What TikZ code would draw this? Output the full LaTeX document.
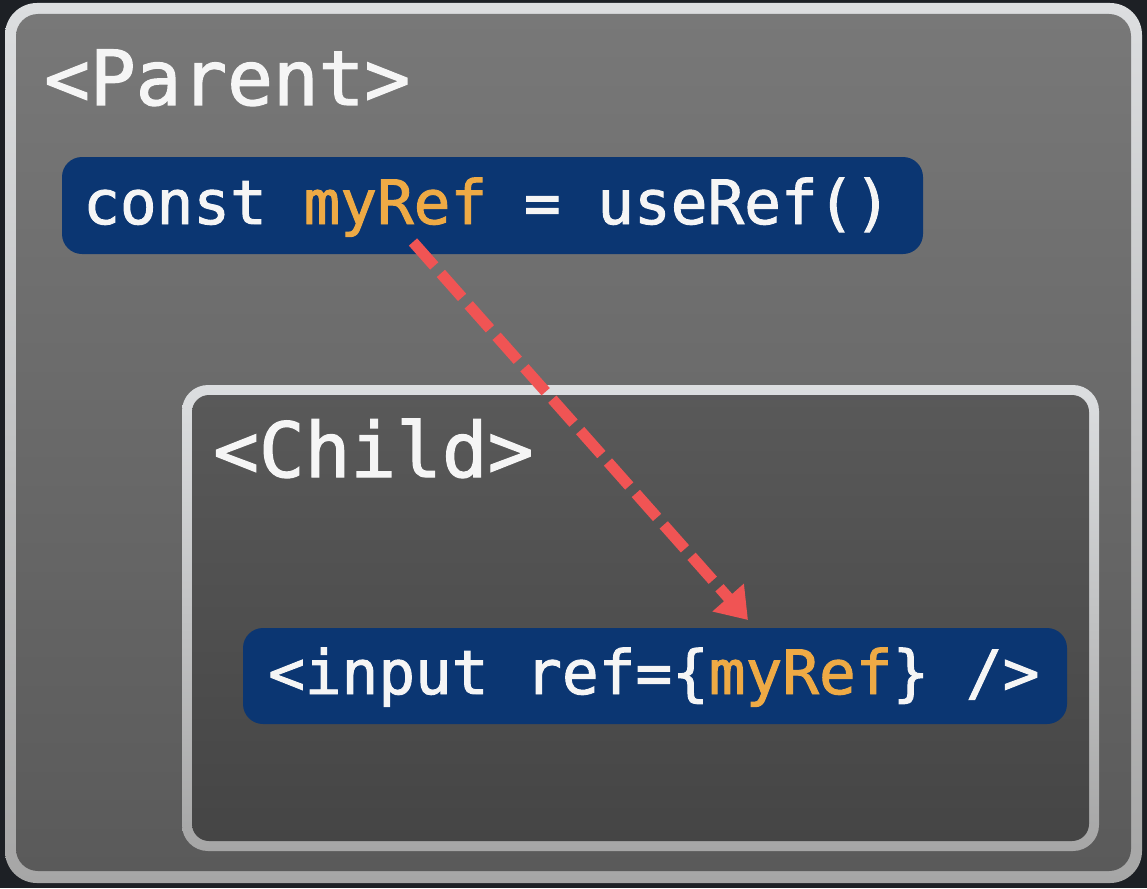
\documentclass[tikz,border=0pt]{standalone}
\usepackage{fontspec}
\usetikzlibrary{arrows.meta}
\newfontfamily\codefont[FakeBold=1.6]{DejaVu Sans Mono}
\definecolor{bgdark}{HTML}{1D2025}
\definecolor{bordTop}{HTML}{DCDEE0}
\definecolor{bordBot}{HTML}{A6A6A6}
\definecolor{outerTop}{HTML}{787878}
\definecolor{outerBot}{HTML}{5A5A5A}
\definecolor{innerTop}{HTML}{595959}
\definecolor{innerBot}{HTML}{454545}
\definecolor{codeBlue}{HTML}{0B3672}
\definecolor{refOrange}{HTML}{EEAA45}
\definecolor{arrowRed}{HTML}{F05454}
\definecolor{txtWhite}{HTML}{F5F5F5}
\tikzset{
  codebox/.style={fill=codeBlue, rounded corners=20pt, inner sep=0pt, draw=none},
  codetext/.style={anchor=base west, inner sep=0pt, text=txtWhite,
    font=\codefont\fontsize{61}{61}\selectfont},
  headtext/.style={anchor=base west, inner sep=0pt, text=txtWhite,
    font=\codefont\fontsize{76}{76}\selectfont},
  refarrow/.style={draw=arrowRed, line width=11pt, dash pattern=on 32pt off 10pt,
    -{Triangle[length=30pt,width=40pt]}},
}
\begin{document}
\begin{tikzpicture}[x=1pt,y=-1pt]
  \fill[bgdark] (0,0) rectangle (1147,888);
  \useasboundingbox (0,0) rectangle (1147,888);
  % outer (Parent) box
  \shade[rounded corners=32pt, top color=bordTop, bottom color=bordBot] (5,3) rectangle (1142,883);
  \shade[rounded corners=22pt, top color=outerTop, bottom color=outerBot] (16,14) rectangle (1131,871);
  \node[headtext] (parentLabel) at (44,105) {<Parent>};
  % declaration
  \node[codebox, minimum width=861pt, minimum height=97pt] (decl) at (492.5,205.5) {};
  \node[codetext] (declText) at (83,224) {const \textcolor{refOrange}{myRef} = useRef()};
  % child box
  \shade[rounded corners=26pt, top color=bordTop, bottom color=bordBot] (182,385) rectangle (1099,851);
  \shade[rounded corners=17pt, top color=innerTop, bottom color=innerBot] (192,395) rectangle (1089,841);
  \node[headtext] (childLabel) at (213,477) {<Child>};
  % input
  \node[codebox, minimum width=824pt, minimum height=96pt] (inputBox) at (655,676) {};
  \node[codetext] (inputText) at (268,694) {<input ref=\{\textcolor{refOrange}{myRef}\} />};
  % arrow
  \coordinate (arrowStart) at (413,242);
  \coordinate (arrowEnd) at (748,620);
  \draw[refarrow] (arrowStart) -- (arrowEnd);
\end{tikzpicture}
\end{document}
